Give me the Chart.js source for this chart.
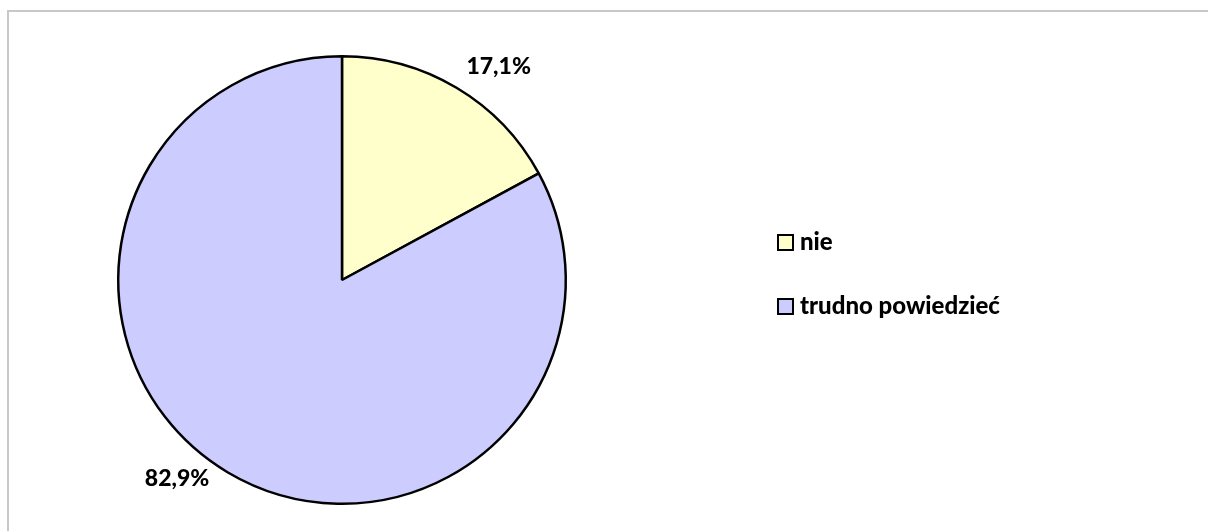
<!DOCTYPE html>
<html>
<head>
<meta charset="utf-8">
<script src="https://cdn.jsdelivr.net/npm/chart.js@4"></script>
<style>
  html, body { margin: 0; padding: 0; background: #fff; }
  body { width: 1208px; height: 531px; overflow: hidden; position: relative; }
  #frame { position: absolute; left: 7px; top: 10px; width: 1220px; height: 540px;
           border: 2px solid #c8c8c8; box-sizing: border-box; }
  #wrap { position: absolute; left: 0; top: 0; width: 1208px; height: 531px; }
  #legend { position: absolute; left: 777px; top: 225px; font-family: Lato, sans-serif;
            font-weight: 900; font-size: 24px; color: #000; }
  #legend div { height: 32px; line-height: 32px; margin-bottom: 32px; white-space: nowrap; }
  #legend span.box { display: inline-block; width: 13px; height: 13px; border: 2px solid #000;
                     margin-right: 6px; vertical-align: -1px; }
</style>
</head>
<body>
<div id="frame"></div>
<div id="wrap"><canvas id="pieChart" width="1208" height="531"></canvas></div>
<div id="legend"></div>
<script>
const labels = ['nie', 'trudno powiedzieć'];
const values = [17.1, 82.9];
const valueLabels = ['17,1%', '82,9%'];
const colors = ['#FFFFCC', '#CCCCFF'];

// data labels outside the slices
const outsideLabels = {
  id: 'outsideLabels',
  afterDatasetsDraw(chart, args, opts) {
    const ctx = chart.ctx;
    const meta = chart.getDatasetMeta(0);
    ctx.save();
    ctx.font = '900 23px Lato, sans-serif';
    ctx.fillStyle = '#000';
    ctx.textAlign = 'center';
    ctx.textBaseline = 'middle';
    meta.data.forEach((arc, i) => {
      const mid = (arc.startAngle + arc.endAngle) / 2 + opts.shift[i] * Math.PI / 180;
      const r = arc.outerRadius + opts.dist[i];
      ctx.fillText(valueLabels[i], arc.x + Math.cos(mid) * r, arc.y + Math.sin(mid) * r);
    });
    ctx.restore();
  }
};

new Chart(document.getElementById('pieChart'), {
  type: 'pie',
  data: {
    labels,
    datasets: [{
      data: values,
      backgroundColor: colors,
      borderColor: '#000',
      borderWidth: 2.5,
      borderAlign: 'center'
    }]
  },
  options: {
    responsive: false,
    animation: false,
    layout: { padding: { left: 117, right: 641, top: 54, bottom: 25 } },
    plugins: {
      legend: { display: false },
      tooltip: { enabled: false },
      outsideLabels: { shift: [5.5, 9], dist: [41, 34] }
    }
  },
  plugins: [outsideLabels]
});

// LEGEND
const legend = document.getElementById('legend');
labels.forEach((l, i) => {
  const row = document.createElement('div');
  row.innerHTML = `<span class="box" style="background:${colors[i]}"></span>${l}`;
  legend.appendChild(row);
});
</script>
</body>
</html>
